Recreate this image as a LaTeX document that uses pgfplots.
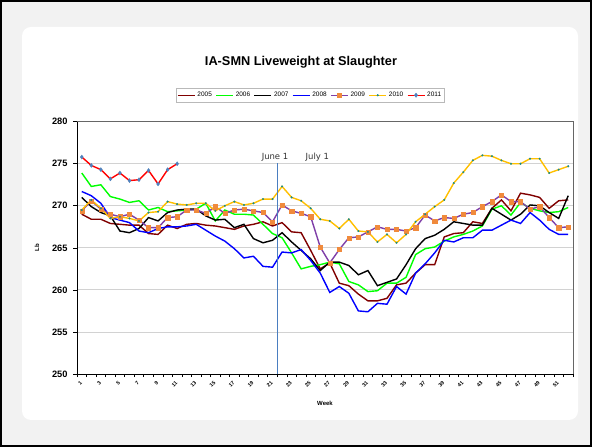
\documentclass[border=0pt]{standalone}
\usepackage{pgfplots}
\usepackage{pgfplotstable}
\pgfplotsset{compat=1.18}
\usepackage{fontspec}
\setmainfont{Liberation Sans}
\newfontfamily\dejavu{DejaVu Sans}
\definecolor{cA}{HTML}{800000}
\definecolor{cB}{HTML}{00FF00}
\definecolor{cC}{HTML}{000000}
\definecolor{cD}{HTML}{0000FF}
\definecolor{cE}{HTML}{7F3FA8}
\definecolor{cEm}{HTML}{F08A3C}
\definecolor{cF}{HTML}{FFC000}
\definecolor{cFm}{HTML}{168A8A}
\definecolor{cG}{HTML}{FF0000}
\definecolor{cGm}{HTML}{4F81BD}
\definecolor{vline}{HTML}{4A7EC0}
\definecolor{bgout}{HTML}{F2F2F2}

\pgfplotstableread{
w y05 y06 y07 y08 y09 y10 y11
1 269.0 273.9 271.0 271.7 269.4 269.5 275.8
2 268.4 272.3 269.9 271.2 270.6 270.7 274.8
3 268.4 272.5 269.2 270.3 269.6 269.7 274.3
4 267.9 271.1 268.8 268.6 269.0 268.5 273.2
5 267.8 270.8 267.0 268.3 268.7 268.7 273.9
6 267.7 270.4 266.8 268.0 269.0 268.5 273.0
7 267.7 270.6 267.3 267.0 268.3 268.2 273.1
8 266.7 269.5 268.6 266.8 267.4 269.2 274.2
9 266.6 269.8 268.2 267.3 267.4 269.3 272.6
10 267.7 269.3 269.2 267.5 268.6 270.5 274.3
11 267.3 269.4 269.5 267.5 268.7 270.2 275.0
12 267.8 269.5 269.6 267.6 269.5 270.1 nan
13 267.9 269.6 269.6 267.8 269.5 270.3 nan
14 267.7 270.3 268.8 267.1 269.1 270.3 nan
15 267.6 268.2 268.3 266.4 269.9 269.4 nan
16 267.4 269.5 268.4 265.8 269.1 270.0 nan
17 267.2 269.0 267.4 264.9 269.5 270.5 nan
18 267.6 269.0 267.8 263.8 269.6 270.1 nan
19 267.8 268.9 266.1 264.0 269.4 270.3 nan
20 268.1 267.8 265.6 262.8 269.2 270.8 nan
21 267.6 266.7 265.9 262.7 268.1 270.8 nan
22 268.0 266.2 266.8 264.5 270.1 272.3 nan
23 266.9 264.4 265.7 264.4 269.4 271.0 nan
24 266.8 262.5 264.7 264.8 269.1 270.6 nan
25 264.7 262.8 263.7 263.5 268.7 269.7 nan
26 262.5 263.0 262.3 262.0 265.1 268.4 nan
27 263.2 263.3 263.3 259.7 263.2 268.2 nan
28 260.8 263.1 263.3 260.4 264.8 267.3 nan
29 260.5 261.0 262.9 259.6 266.2 268.4 nan
30 259.5 260.6 261.8 257.5 266.3 267.0 nan
31 258.7 259.8 262.3 257.4 266.9 266.9 nan
32 258.7 259.9 260.5 258.4 267.5 265.7 nan
33 259.0 260.8 260.9 258.3 267.2 266.6 nan
34 260.6 260.8 261.3 260.4 267.2 265.6 nan
35 260.8 261.5 263.0 259.5 267.0 266.6 nan
36 262.0 264.2 264.9 262.0 267.4 268.1 nan
37 263.0 264.9 266.1 263.1 268.9 269.0 nan
38 263.0 265.1 266.5 264.4 268.2 269.9 nan
39 266.3 265.8 267.2 265.9 268.6 270.7 nan
40 266.7 266.3 268.1 265.7 268.5 272.7 nan
41 266.8 266.6 267.9 266.2 269.0 274.0 nan
42 268.1 267.0 267.7 266.2 269.2 275.4 nan
43 267.9 267.6 267.7 267.1 269.9 276.0 nan
44 269.7 269.6 269.7 267.1 270.5 275.9 nan
45 270.7 270.0 269.0 267.7 271.3 275.4 nan
46 269.4 268.9 268.3 268.3 270.5 275.0 nan
47 271.5 270.4 269.0 267.9 270.5 275.0 nan
48 271.3 269.7 270.1 269.2 269.6 275.6 nan
49 271.0 269.4 270.0 268.3 269.9 275.6 nan
50 269.7 269.2 269.2 267.2 268.6 273.9 nan
51 270.6 269.3 268.5 266.6 267.4 274.3 nan
52 270.7 269.8 271.2 266.6 267.5 274.7 nan
}\data

\pgfplotsset{
  s05/.style={color=cA, draw=cA, line width=1.4bp, no markers},
  s06/.style={color=cB, draw=cB, line width=1.4bp, no markers},
  s07/.style={color=cC, draw=cC, line width=1.4bp, no markers},
  s08/.style={color=cD, draw=cD, line width=1.4bp, no markers},
  s09/.style={color=cE, draw=cE, line width=1.4bp, mark=square*, mark size=2.1bp, mark options={fill=cEm, draw=cEm, line width=0.3bp}},
  s10/.style={color=cF, draw=cF, line width=1.4bp, mark=*, mark size=0.9bp, mark options={fill=cFm, draw=cFm, line width=0.2bp}},
  s11/.style={color=cG, draw=cG, line width=1.4bp, mark=diamond*, mark size=2.1bp, mark options={fill=cGm, draw=cGm, line width=0.2bp}},
}
\newcommand{\legline}[2]{\addlegendimage{legend image code/.code={%
  \draw[draw=#1, line width=1.4bp] (0bp,0bp) -- (17bp,0bp);}}\addlegendentry{#2}}
\newcommand{\leglinemark}[3]{\addlegendimage{legend image code/.code={%
  \draw[draw=#1, line width=1.4bp] (0bp,0bp) -- (17bp,0bp);
  \draw[#2, draw=none] plot coordinates {(8.5bp,0bp)};}}\addlegendentry{#3}}

\begin{document}
\begin{tikzpicture}
\useasboundingbox (0bp,0bp) rectangle (592bp,447bp);
\fill[bgout] (0bp,0bp) rectangle (592bp,447bp);
\draw[black, line width=1.2bp] (1bp,1bp) rectangle (591bp,446bp);
\fill[white, rounded corners=9bp] (22bp,27bp) rectangle (578bp,420bp);
\node[font=\fontsize{12.8}{14}\selectfont\bfseries] at (301bp,385bp) {IA-SMN Liveweight at Slaughter};
\begin{axis}[
  at={(77bp,73bp)}, anchor=south west,
  width=496bp, height=252.3bp, scale only axis,
  xmin=0.5, xmax=52.5, ymin=250, ymax=280,
  xtick={1,3,...,51},
  minor xtick={0.5,1.5,...,52.5},
  ytick={250,255,...,280},
  tick align=outside, tick pos=left,
  major tick length=4bp, minor tick length=3bp,
  major x tick style={draw=none},
  minor x tick style={black, line width=0.6bp},
  major y tick style={black, line width=0.6bp},
  axis line style={draw=none},
  ymajorgrids, major grid style={draw=gray!35, line width=0.8bp},
  /pgf/number format/assume math mode=true,
  yticklabel style={font=\fontsize{9.3}{10}\selectfont\bfseries, xshift=-2bp},
  xticklabel style={font=\fontsize{5.3}{6}\selectfont\bfseries, rotate=45, anchor=east, yshift=-2.5bp},
  xlabel={Week}, xlabel style={font=\fontsize{6}{7}\selectfont\bfseries, yshift=-5bp},
  ylabel={Lb}, ylabel style={font=\fontsize{6}{7}\selectfont\bfseries, yshift=6bp},
  legend columns=7,
  legend style={at={(0.47,1.105)}, anchor=center, draw=none, fill=none,
    font=\fontsize{6.5}{7}\selectfont, inner sep=1bp,
    /tikz/every even column/.append style={column sep=1.5bp}},
  legend cell align=left,
  clip=false,
]
\draw[gray!80!black, line width=0.8bp] (rel axis cs:0,1) -- (rel axis cs:1,1) -- (rel axis cs:1,0);
\addplot[s05, forget plot] table[x=w,y=y05]{\data};
\addplot[s06, forget plot] table[x=w,y=y06]{\data};
\addplot[s07, forget plot] table[x=w,y=y07]{\data};
\addplot[s08, forget plot] table[x=w,y=y08]{\data};
\addplot[s09, forget plot] table[x=w,y=y09]{\data};
\addplot[s10, forget plot] table[x=w,y=y10]{\data};
\addplot[s11, forget plot] table[x=w,y=y11]{\data};
\legline{cA}{2005}
\legline{cB}{2006}
\legline{cC}{2007}
\legline{cD}{2008}
\leglinemark{cE}{mark=square*, mark size=2.1bp, mark options={fill=cEm, draw=cEm}}{2009}
\leglinemark{cF}{mark=*, mark size=0.9bp, mark options={fill=cFm, draw=cFm}}{2010}
\leglinemark{cG}{mark=diamond*, mark size=2.1bp, mark options={fill=cGm, draw=cGm}}{2011}
\addplot[vline, line width=1bp, forget plot] coordinates {(21.5,250) (21.5,275.1)};
\draw[black, line width=1bp] (rel axis cs:0,1) -- (rel axis cs:0,0) -- (rel axis cs:1,0);
\node[font=\dejavu\fontsize{8.5}{9}\selectfont, text=black!80] at (axis cs:21.26,275.75) {June 1};
\node[font=\dejavu\fontsize{8.5}{9}\selectfont, text=black!80] at (axis cs:25.7,275.75) {July 1};
\end{axis}
\draw[gray!55, line width=0.5bp] (176bp,345bp) rectangle (444bp,359bp);
\end{tikzpicture}
\end{document}
